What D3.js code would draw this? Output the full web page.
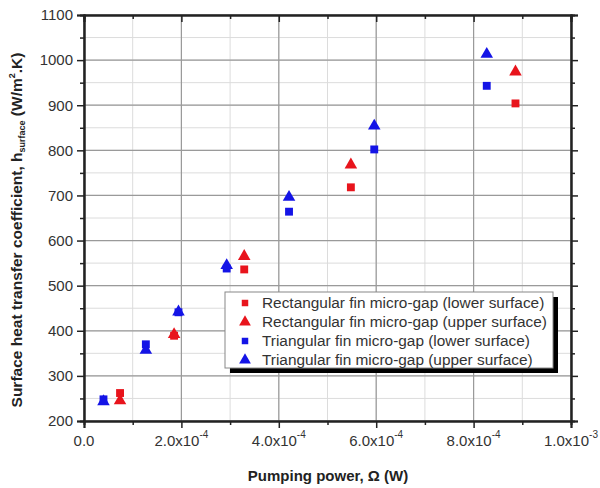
<!DOCTYPE html>
<html>
<head>
<meta charset="utf-8">
<script src="https://cdn.jsdelivr.net/npm/d3@7"></script>
<style>
  html, body { margin: 0; padding: 0; background: #fff; }
  svg { display: block; font-family: Arial, "Liberation Sans", Helvetica, sans-serif; }
</style>
</head>
<body>
<svg id="chart" width="600" height="488"></svg>
<script>
// Pumping power (W) for each fin geometry
const rectX = [7.4e-5, 1.85e-4, 3.29e-4, 5.48e-4, 8.86e-4];
const triX  = [4.0e-5, 1.27e-4, 1.94e-4, 2.93e-4, 4.21e-4, 5.96e-4, 8.27e-4];

// Surface heat transfer coefficient (W/m².K)
const rectLower = [262, 389, 536, 718, 904];
const rectUpper = [245, 392, 565, 768, 974];
const triLower  = [248, 370, 441, 538, 664, 802, 943];
const triUpper  = [243, 357, 442, 545, 696, 854, 1013];

const seriesNames = [
  "Rectangular fin micro-gap (lower surface)",
  "Rectangular fin micro-gap (upper surface)",
  "Triangular fin micro-gap (lower surface)",
  "Triangular fin micro-gap (upper surface)"
];

const xTicks = [0, 2e-4, 4e-4, 6e-4, 8e-4, 1e-3];
const xTickMantissa = ["0.0", "2.0x10", "4.0x10", "6.0x10", "8.0x10", "1.0x10"];
const xTickExponent = ["", "-4", "-4", "-4", "-4", "-3"];
const yTicks = [200, 300, 400, 500, 600, 700, 800, 900, 1000, 1100];

const red = "#e8141c", blue = "#1414e6";

const series = [
  { name: seriesNames[0], xs: rectX, ys: rectLower, color: red,  shape: "square" },
  { name: seriesNames[1], xs: rectX, ys: rectUpper, color: red,  shape: "triangle" },
  { name: seriesNames[2], xs: triX,  ys: triLower,  color: blue, shape: "square" },
  { name: seriesNames[3], xs: triX,  ys: triUpper,  color: blue, shape: "triangle" }
];

const svg = d3.select("#chart");
const m = { left: 84, top: 15, right: 29, bottom: 67 };
const W = 600 - m.left - m.right, H = 488 - m.top - m.bottom;
const fs = 15;

const x = d3.scaleLinear().domain([0, 1e-3]).range([m.left, m.left + W]);
const y = d3.scaleLinear().domain([200, 1100]).range([m.top + H, m.top]);

const xMinor = d3.range(0, 1e-3 + 1e-9, 1e-4);
const yMinor = d3.range(200, 1101, 50);

// minor grid
const g = svg.append("g");
g.selectAll(".vmin").data(xMinor).join("line")
  .attr("x1", d => x(d)).attr("x2", d => x(d))
  .attr("y1", m.top).attr("y2", m.top + H)
  .attr("stroke", "#dcdcdc").attr("stroke-width", 1);
g.selectAll(".hmin").data(yMinor).join("line")
  .attr("y1", d => y(d)).attr("y2", d => y(d))
  .attr("x1", m.left).attr("x2", m.left + W)
  .attr("stroke", "#dcdcdc").attr("stroke-width", 1);
// major grid
g.selectAll(".vmaj").data(xTicks).join("line")
  .attr("x1", d => x(d)).attr("x2", d => x(d))
  .attr("y1", m.top).attr("y2", m.top + H)
  .attr("stroke", "#9a9a9a").attr("stroke-width", 1.2);
g.selectAll(".hmaj").data(yTicks).join("line")
  .attr("y1", d => y(d)).attr("y2", d => y(d))
  .attr("x1", m.left).attr("x2", m.left + W)
  .attr("stroke", "#9a9a9a").attr("stroke-width", 1.2);

// axes: left, bottom and right ticks point outward, top ticks inward
const axColor = "#222";
const axL = svg.append("g").attr("transform", `translate(${m.left},0)`)
  .call(d3.axisLeft(y).tickValues(yTicks).tickSize(7).tickFormat(d3.format("d")));
const axLm = svg.append("g").attr("transform", `translate(${m.left},0)`)
  .call(d3.axisLeft(y).tickValues(yMinor.filter(v => v % 100)).tickSize(4).tickFormat(""));
const axB = svg.append("g").attr("transform", `translate(0,${m.top + H})`)
  .call(d3.axisBottom(x).tickValues(xTicks).tickSize(7).tickFormat(""));
const axBm = svg.append("g").attr("transform", `translate(0,${m.top + H})`)
  .call(d3.axisBottom(x).tickValues(xMinor.filter((v, i) => i % 2)).tickSize(4).tickFormat(""));
const axR = svg.append("g").attr("transform", `translate(${m.left + W},0)`)
  .call(d3.axisRight(y).tickValues(yTicks).tickSize(7).tickFormat(""));
const axRm = svg.append("g").attr("transform", `translate(${m.left + W},0)`)
  .call(d3.axisRight(y).tickValues(yMinor.filter(v => v % 100)).tickSize(4).tickFormat(""));
const axT = svg.append("g").attr("transform", `translate(0,${m.top})`)
  .call(d3.axisBottom(x).tickValues(xTicks).tickSize(7).tickFormat(""));
const axTm = svg.append("g").attr("transform", `translate(0,${m.top})`)
  .call(d3.axisBottom(x).tickValues(xMinor.filter((v, i) => i % 2)).tickSize(4).tickFormat(""));

[axL, axLm, axB, axBm, axR, axRm, axT, axTm].forEach(a => {
  a.select(".domain").attr("stroke", axColor).attr("stroke-width", 2);
  a.selectAll(".tick line").attr("stroke", axColor).attr("stroke-width", 1.5);
});
axL.selectAll(".tick text").attr("fill", "#333").attr("font-size", fs)
  .attr("font-family", "Arial, 'Liberation Sans', sans-serif").attr("dx", -1);

// x tick labels with exponent superscripts
const xl = svg.append("g").attr("fill", "#333").attr("font-size", fs);
xTicks.forEach((v, i) => {
  const t = xl.append("text").attr("x", x(v)).attr("y", 446).attr("text-anchor", "middle");
  t.append("tspan").text(xTickMantissa[i]);
  if (xTickExponent[i]) {
    t.append("tspan").attr("font-size", 10).attr("dy", -8).text(xTickExponent[i]);
  }
});

// axis titles
svg.append("text").attr("x", 328).attr("y", 481).attr("text-anchor", "middle")
  .attr("font-weight", "bold").attr("font-size", fs).attr("fill", "#222")
  .text("Pumping power, \u03A9 (W)");

const yt = svg.append("text").attr("transform", "translate(22,230) rotate(-90)")
  .attr("text-anchor", "middle").attr("font-weight", "bold").attr("font-size", 15.5).attr("fill", "#222");
yt.append("tspan").text("Surface heat transfer coefficient, h");
yt.append("tspan").attr("font-size", 9).attr("dy", 3).text("surface");
yt.append("tspan").attr("dy", -3).text(" (W/m");
yt.append("tspan").attr("font-size", 9).attr("dy", -7).text("2");
yt.append("tspan").attr("dy", 7).text(".K)");

// markers
const sq = d3.symbol().type(d3.symbolSquare).size(62);
const tri = d3.symbol().type(d3.symbolTriangle).size(68);
const pts = svg.append("g");
series.forEach(s => {
  pts.selectAll(null).data(s.xs.map((xv, i) => [xv, s.ys[i]])).join("path")
    .attr("transform", d => `translate(${x(d[0])},${y(d[1])})`)
    .attr("d", s.shape === "square" ? sq : tri)
    .attr("fill", s.color);
});

// legend with drop shadow
const lg = { x: 225, y: 292, w: 328, h: 76 };
svg.append("rect").attr("x", lg.x + 5).attr("y", lg.y + 5).attr("width", lg.w).attr("height", lg.h).attr("fill", "#000");
svg.append("rect").attr("x", lg.x).attr("y", lg.y).attr("width", lg.w).attr("height", lg.h)
  .attr("fill", "#fff").attr("stroke", "#888").attr("stroke-width", 1);
series.forEach((s, i) => {
  const cy = lg.y + 11 + i * 19;
  svg.append("path").attr("transform", `translate(${lg.x + 20},${cy})`)
    .attr("d", s.shape === "square" ? d3.symbol().type(d3.symbolSquare).size(42) : d3.symbol().type(d3.symbolTriangle).size(60))
    .attr("fill", s.color);
  svg.append("text").attr("x", lg.x + 37).attr("y", cy + 5).attr("font-size", 15.4).attr("fill", "#333")
    .text(s.name);
});
</script>
</body>
</html>
